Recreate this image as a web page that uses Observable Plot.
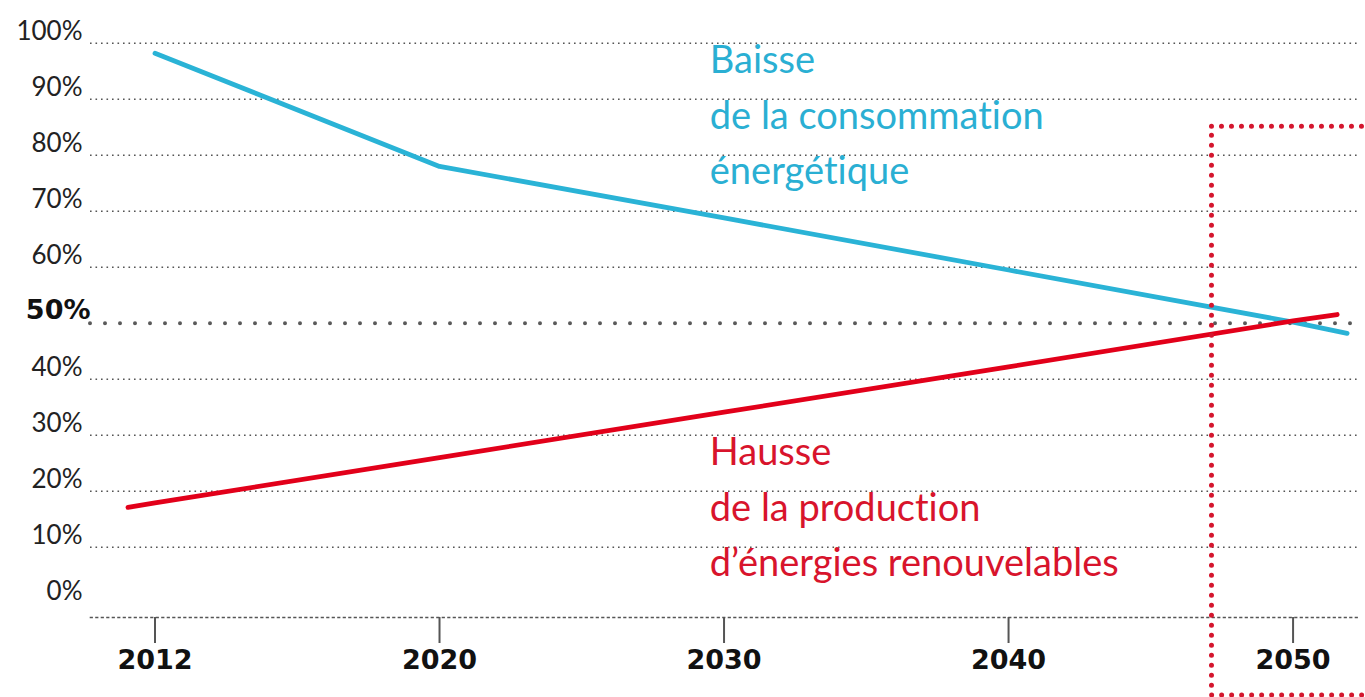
<!DOCTYPE html>
<html>
<head>
<meta charset="utf-8">
<script src="https://cdn.jsdelivr.net/npm/d3@7"></script>
<script src="https://cdn.jsdelivr.net/npm/@observablehq/plot@0.6"></script>
<style>
  html, body { margin: 0; padding: 0; background: #fff; }
  #chart svg { display: block; }
  #chart svg text { font-variant-ligatures: none; font-feature-settings: "liga" 0, "clig" 0; }
</style>
</head>
<body>
<div id="chart"></div>
<script>
// ---- Data ----
const tickYears = [2012, 2020, 2030, 2040, 2050];
const yTickValues = [0, 10, 20, 30, 40, 60, 70, 80, 90, 100];
const gridValues = [10, 20, 30, 40, 60, 70, 80, 90, 100];
const refValue = 50;

const consumptionYears = [2012, 2020, 2030, 2040, 2050, 2051.9];
const consumptionValues = [98.2, 78, 68.8, 59.5, 50.2, 48.2];

const renewableYears = [2011.24, 2012, 2020, 2030, 2040, 2050, 2051.55];
const renewableValues = [17.1, 17.9, 26, 34.1, 42.2, 50.4, 51.55];

const blueLabelLines = ["Baisse", "de la consommation", "énergétique"];
const blueLabelValues = [96.8, 86.9, 77.1];
const redLabelLines = ["Hausse", "de la production", "d\u2019énergies renouvelables"];
const redLabelValues = [26.8, 16.9, 7.1];
const labelYear = 2029.5;

// highlighted 2050 zone
const zoneStartYear = 2047.15;
const zoneEndYear = 2060;
const zoneTop = 85.1;
const zoneBottom = -16.5;

// ---- Helpers ----
// The axis places ticks at equal spacing: 2012→2020 spans the same width as each later decade.
const yearIdx = y => y <= 2020 ? (y - 2012) / 8 : 1 + (y - 2020) / 10;

const blue = "#2ab3d6";
const red = "#e2001a";
const textFont = "Lato, 'Open Sans', sans-serif";
const boldFont = "'DejaVu Sans', Verdana, sans-serif";

const consumption = consumptionYears.map((yr, i) => ({year: yr, value: consumptionValues[i]}));
const renewable = renewableYears.map((yr, i) => ({year: yr, value: renewableValues[i]}));
const blueLabels = blueLabelLines.map((t, i) => ({text: t, year: labelYear, value: blueLabelValues[i]}));
const redLabels = redLabelLines.map((t, i) => ({text: t, year: labelYear, value: redLabelValues[i]}));

const chart = Plot.plot({
  width: 1365,
  height: 697,
  marginLeft: 90,
  marginRight: 5,
  marginTop: 0,
  marginBottom: 80,
  style: {fontFamily: textFont, background: "#fff", overflow: "visible"},
  x: {type: "linear", domain: [-0.2267, 4.237], axis: null},
  y: {domain: [0, 100], range: [602.7, 42.7], axis: null},
  marks: [
    // dotted gridlines
    Plot.ruleY(gridValues, {stroke: "#555", strokeWidth: 1.6, strokeDasharray: "1.6 3.9"}),
    // bottom dotted axis line
    Plot.frame({anchor: "bottom", stroke: "#555", strokeWidth: 1.6, strokeDasharray: "1.6 3.9"}),
    // bold 50% reference line
    Plot.ruleY([refValue], {stroke: "#5a5a5a", strokeWidth: 4, strokeDasharray: "0 15", strokeLinecap: "round"}),
    // y tick labels
    Plot.axisY(yTickValues, {
      anchor: "left", label: null, tickSize: 0, tickPadding: 8, dy: -12,
      tickFormat: d => d + "%", fontSize: 26, fill: "#222", fontFamily: textFont
    }),
    Plot.text([refValue], {
      y: d => d, frameAnchor: "left", dx: 0, dy: -13, text: d => d + "%",
      textAnchor: "end", fontSize: 27, fontWeight: "bold", fontFamily: boldFont, fill: "#111"
    }),
    // x axis ticks and labels
    Plot.axisX(tickYears.map(yearIdx), {
      anchor: "bottom", label: null, tickSize: 26, tickPadding: 6, stroke: "#555", strokeWidth: 2,
      tickFormat: v => String(tickYears[Math.round(v)]), fontSize: 27, fontWeight: "bold",
      fontFamily: boldFont, fill: "#111"
    }),
    // series lines
    Plot.line(consumption, {x: d => yearIdx(d.year), y: "value", stroke: blue, strokeWidth: 4.8, strokeLinejoin: "round"}),
    Plot.line(renewable, {x: d => yearIdx(d.year), y: "value", stroke: red, strokeWidth: 4.8}),
    // series labels
    Plot.text(blueLabels, {x: d => yearIdx(d.year), y: "value", text: "text", textAnchor: "start", fontSize: 38, fill: "#2aafd3", fontFamily: textFont}),
    Plot.text(redLabels, {x: d => yearIdx(d.year), y: "value", text: "text", textAnchor: "start", fontSize: 38, fill: "#d8142c", fontFamily: textFont}),
    // highlighted 2050 zone
    Plot.rect([{}], {
      x1: () => yearIdx(zoneStartYear), x2: () => yearIdx(zoneEndYear),
      y1: () => zoneBottom, y2: () => zoneTop,
      fill: "none", stroke: "#d4162e", strokeWidth: 5, strokeDasharray: "0 10",
      strokeLinecap: "round", clip: false
    })
  ]
});
document.getElementById("chart").appendChild(chart);
</script>
</body>
</html>
